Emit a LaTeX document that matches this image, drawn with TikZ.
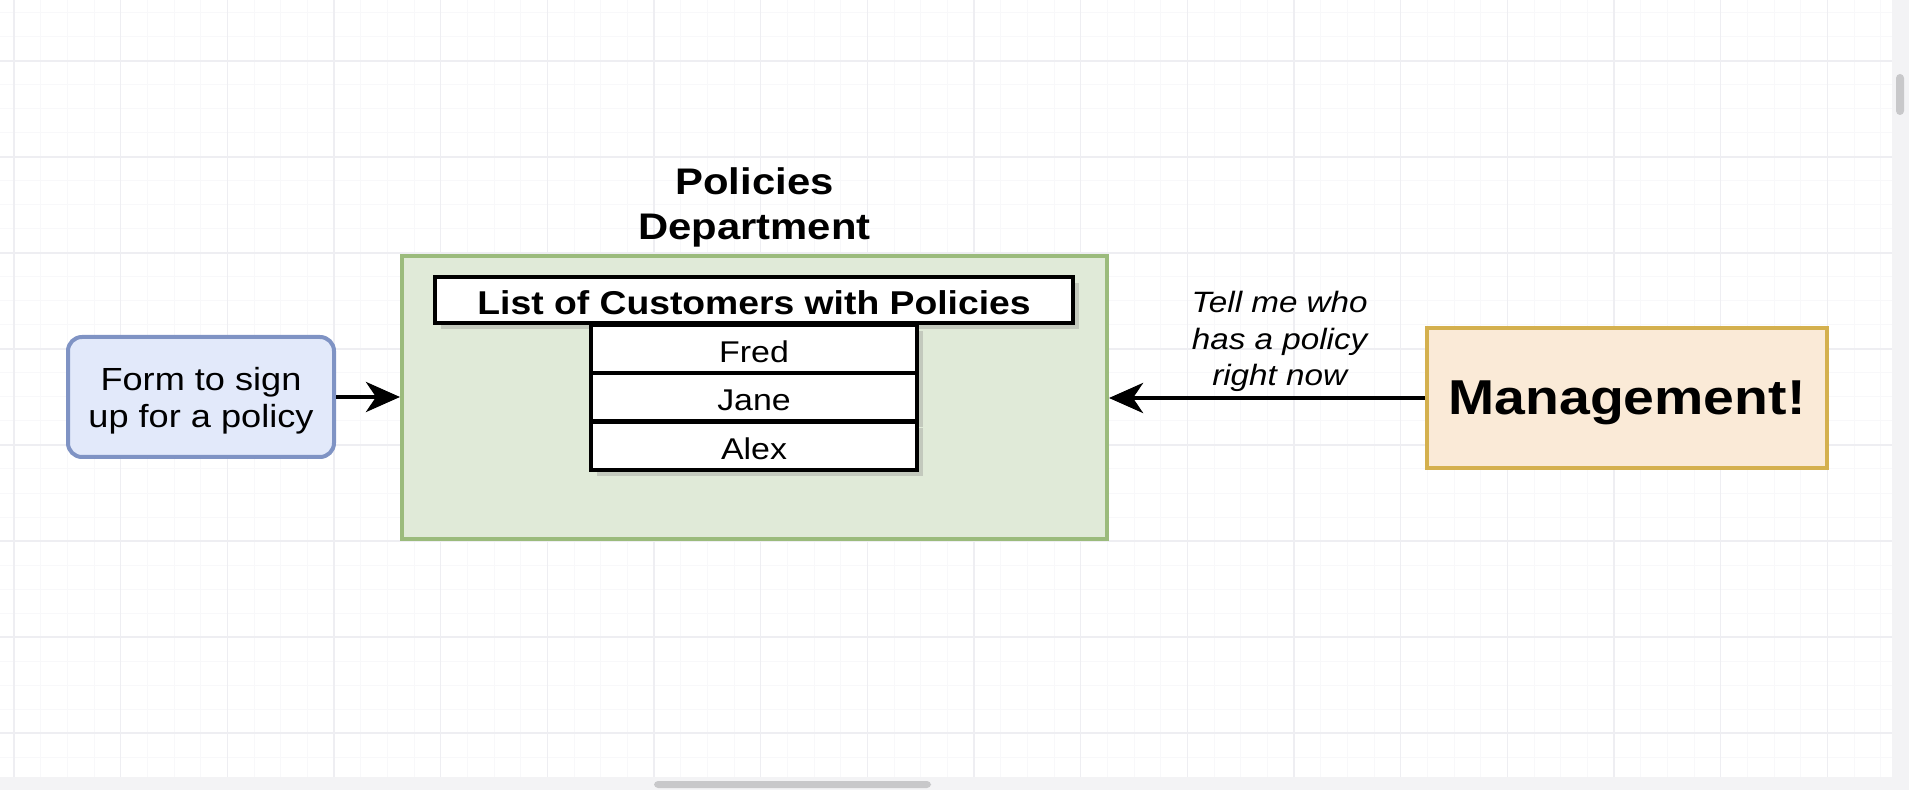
\documentclass[tikz,border=0pt]{standalone}
\usepackage{fontspec}
\setmainfont{Liberation Sans}[FakeStretch=1.13]
\usetikzlibrary{arrows.meta,positioning,shadows}
\definecolor{formblue}{HTML}{E2E9FA}
\definecolor{formborder}{HTML}{7F93C4}
\definecolor{deptgreen}{HTML}{E0EAD8}
\definecolor{deptborder}{HTML}{9BBB7C}
\definecolor{mgmtorange}{HTML}{FAEAD7}
\definecolor{mgmtborder}{HTML}{D4B04E}
\definecolor{gridminor}{HTML}{F8F8FA}
\definecolor{gridmajor}{HTML}{EEEEF2}
\definecolor{panelgray}{HTML}{F3F3F5}
\definecolor{scrollgray}{HTML}{C8C8CA}
\tikzset{
  minorgrid/.style={line width=0.5pt,gridminor},
  majorgrid/.style={line width=0.6pt,gridmajor},
  formbox/.style={draw=formborder,fill=formblue,line width=2pt,rounded corners=7pt,minimum width=133pt,minimum height=60pt,inner sep=0pt,align=center,font=\fontsize{16pt}{18.5pt}\selectfont},
  deptbox/.style={draw=deptborder,fill=deptgreen,line width=2pt,minimum width=352.5pt,minimum height=141.5pt,inner sep=0pt},
  depttitle/.style={align=center,inner sep=0pt,font=\bfseries\fontsize{18.5pt}{22.5pt}\selectfont},
  listhead/.style={draw,fill=white,line width=2pt,minimum width=319pt,minimum height=23pt,inner sep=0pt,text height=14.4pt,text depth=0pt,font=\bfseries\fontsize{16.5pt}{19.8pt}\selectfont,drop shadow={shadow xshift=3pt,shadow yshift=-3pt,opacity=0.3}},
  listrow/.style={draw,fill=white,line width=2pt,minimum width=163pt,minimum height=24pt,inner sep=0pt,text height=13.5pt,text depth=0pt,font=\fontsize{15pt}{18pt}\selectfont,drop shadow={shadow xshift=3pt,shadow yshift=-3pt,opacity=0.3}},
  mgmtbox/.style={draw=mgmtborder,fill=mgmtorange,line width=2pt,minimum width=200pt,minimum height=70pt,inner sep=0pt,text depth=0pt,font=\bfseries\fontsize{24.5pt}{29.4pt}\selectfont},
  flow/.style={-{Stealth[length=17pt,width=15pt,inset=5pt]},line width=2.2pt},
  asklabel/.style={align=center,inner sep=0pt,font=\itshape\fontsize{14.7pt}{18.3pt}\selectfont}
}
\begin{document}
\begin{tikzpicture}[x=0.5pt,y=-0.5pt]
  \useasboundingbox (0,0) rectangle (1909,790);
  % canvas grid
  \foreach \i in {0,...,70}{
    \draw[minorgrid] ({14+26.667*\i},0) -- ({14+26.667*\i},777);
  }
  \foreach \j in {0,...,31}{
    \draw[minorgrid] (0,{13+24*\j}) -- (1892,{13+24*\j});
  }
  \foreach \i in {0,...,17}{
    \draw[majorgrid] ({14+106.667*\i},0) -- ({14+106.667*\i},777);
  }
  \foreach \j in {0,...,7}{
    \draw[majorgrid] (0,{61+96*\j}) -- (1892,{61+96*\j});
  }
  \fill[panelgray] (0,777) rectangle (1909,790);
  \fill[panelgray] (1892,0) rectangle (1909,790);
  \fill[scrollgray,rounded corners=2pt] (654,781) rectangle (931,788);
  \fill[scrollgray,rounded corners=2pt] (1896,74) rectangle (1904,115);

  % boxes
  \node[formbox] (form) at (201,397) {\rule{0pt}{15.7pt}Form to sign\\up for a policy};
  \node[deptbox] (dept) at (754.5,397.5) {};
  \node[depttitle,above=3pt of dept] (title) {Policies\\Department};
  \node[listhead] (listhead) at (754,300) {List of Customers with Policies};
  \foreach \name/\y in {Fred/349,Jane/397.5,Alex/446}{
    \node[listrow] (row\name) at (754,\y) {\name};
  }
  \node[mgmtbox] (mgmt) at (1627,398) {Management!};

  % requests
  \draw[flow] (form.east) -- (form.east -| dept.west);
  \draw[flow] (mgmt.west) -- (mgmt.west -| dept.east)
    node[asklabel,pos=0.46,above=2pt] (ask) {Tell me who\\has a policy\\right now};
\end{tikzpicture}
\end{document}
